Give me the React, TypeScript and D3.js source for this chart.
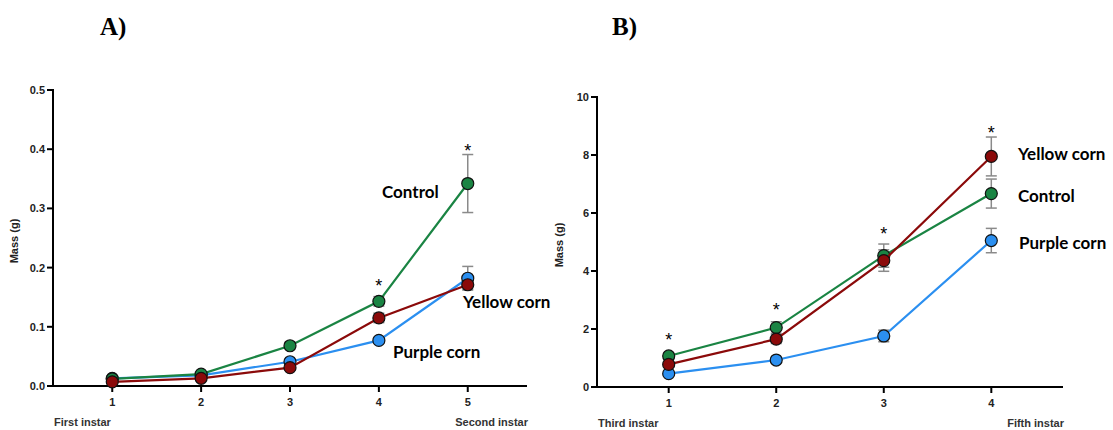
import React from "react";
import * as d3 from "d3";

// ---------- Data ----------
const stagesA = [1, 2, 3, 4, 5];
const controlA = [0.012, 0.02, 0.068, 0.143, 0.342];
const controlErrA = [0.002, 0.002, 0.006, 0.008, 0.049];
const yellowA = [0.007, 0.013, 0.031, 0.115, 0.171];
const yellowErrA = [0.001, 0.002, 0.004, 0.008, 0.007];
const purpleA = [0.013, 0.018, 0.041, 0.077, 0.182];
const purpleErrA = [0.002, 0.002, 0.004, 0.005, 0.02];
const yTicksA = [0, 0.1, 0.2, 0.3, 0.4, 0.5];
const starsA = [
  { x: 4, y: 0.176 },
  { x: 5, y: 0.404 },
];

const stagesB = [1, 2, 3, 4];
const controlB = [1.07, 2.05, 4.53, 6.67];
const controlErrB = [0.1, 0.2, 0.4, 0.5];
const yellowB = [0.78, 1.65, 4.36, 7.95];
const yellowErrB = [0.1, 0.15, 0.37, 0.67];
const purpleB = [0.46, 0.93, 1.76, 5.05];
const purpleErrB = [0.05, 0.08, 0.2, 0.42];
const yTicksB = [0, 2, 4, 6, 8, 10];
const starsB = [
  { x: 1, y: 1.77 },
  { x: 2, y: 2.81 },
  { x: 3, y: 5.43 },
  { x: 4, y: 8.9 },
];

const COLORS = {
  control: "#1a8443",
  yellow: "#8b0a0a",
  purple: "#2b8ff0",
};

type Series = { key: string; values: number[]; errs: number[]; color: string };

type PanelProps = {
  stages: number[];
  series: Series[];
  yTicks: number[];
  yFormat: (v: number) => string;
  stars: { x: number; y: number }[];
  xRange: [number, number];
  yRange: [number, number];
  yDomain: [number, number];
  leftLabel: string;
  rightLabel: string;
  labels: { text: string; x: number; y: number }[];
  yLabelX: number;
  title: string;
  titleX: number;
};

const AXIS_FONT = "'Liberation Sans', Arial, sans-serif";

function Panel(p: PanelProps) {
  const n = p.stages.length;
  const x = d3.scaleLinear().domain([1 / 3, n + 2 / 3]).range(p.xRange);
  const y = d3.scaleLinear().domain(p.yDomain).range(p.yRange);
  const line = d3
    .line<number>()
    .x((_, i) => x(p.stages[i]))
    .y((d) => y(d));
  const y0 = p.yRange[0];
  const capW = 5.5;
  return (
    <g>
      <text
        x={p.titleX}
        y={35}
        fontFamily="'Liberation Serif', 'Times New Roman', serif"
        fontWeight="bold"
        fontSize={25}
        fill="#000"
      >
        {p.title}
      </text>
      {/* y axis */}
      <line x1={p.xRange[0]} x2={p.xRange[0]} y1={p.yRange[1] - 1} y2={y0 + 1} stroke="#000" strokeWidth={2} />
      {p.yTicks.map((t) => (
        <g key={"yt" + t}>
          <line x1={p.xRange[0] - 6} x2={p.xRange[0]} y1={y(t)} y2={y(t)} stroke="#000" strokeWidth={2} />
          <text
            x={p.xRange[0] - 8}
            y={y(t)}
            dy="0.36em"
            textAnchor="end"
            fontFamily={AXIS_FONT}
            fontWeight="bold"
            fontSize={11}
            fill="#222"
          >
            {p.yFormat(t)}
          </text>
        </g>
      ))}
      <text
        transform={`translate(${p.yLabelX},${(p.yRange[0] + p.yRange[1]) / 2 + 3}) rotate(-90)`}
        textAnchor="middle"
        dy="0.35em"
        fontFamily={AXIS_FONT}
        fontWeight="bold"
        fontSize={11}
        fill="#222"
      >
        Mass (g)
      </text>
      {/* x axis */}
      <line x1={p.xRange[0] - 1} x2={p.xRange[1]} y1={y0} y2={y0} stroke="#000" strokeWidth={2} />
      {p.stages.map((s) => (
        <g key={"xt" + s}>
          <line x1={x(s)} x2={x(s)} y1={y0} y2={y0 + 6} stroke="#000" strokeWidth={2} />
          <text
            x={x(s)}
            y={y0 + 20}
            textAnchor="middle"
            fontFamily={AXIS_FONT}
            fontWeight="bold"
            fontSize={11}
            fill="#222"
          >
            {s}
          </text>
        </g>
      ))}
      <text x={p.xRange[0] + 1} y={y0 + 40} fontFamily={AXIS_FONT} fontWeight="bold" fontSize={11} fill="#333">
        {p.leftLabel}
      </text>
      <text
        x={p.xRange[1] + 1}
        y={y0 + 40}
        textAnchor="end"
        fontFamily={AXIS_FONT}
        fontWeight="bold"
        fontSize={11}
        fill="#333"
      >
        {p.rightLabel}
      </text>
      {/* error bars */}
      {p.series.map((s) =>
        s.values.map((v, i) => {
          const cx = x(p.stages[i]);
          const yt = y(v + s.errs[i]);
          const yb = y(Math.max(0, v - s.errs[i]));
          return (
            <g key={s.key + "e" + i} stroke="#8a8a8a" strokeWidth={1.5}>
              <line x1={cx} x2={cx} y1={yt} y2={yb} />
              <line x1={cx - capW} x2={cx + capW} y1={yt} y2={yt} />
              <line x1={cx - capW} x2={cx + capW} y1={yb} y2={yb} />
            </g>
          );
        })
      )}
      {/* lines and points */}
      {p.series.map((s) => (
        <g key={s.key}>
          <path d={line(s.values) || ""} fill="none" stroke={s.color} strokeWidth={2.2} />
          {s.values.map((v, i) => (
            <circle
              key={i}
              cx={x(p.stages[i])}
              cy={y(v)}
              r={6}
              fill={s.color}
              stroke="#111"
              strokeWidth={1.2}
            />
          ))}
        </g>
      ))}
      {/* significance stars */}
      {p.stars.map((st, i) => (
        <text
          key={"st" + i}
          x={x(st.x)}
          y={y(st.y) + 10}
          textAnchor="middle"
          fontFamily={AXIS_FONT}
          fontSize={18}
          fill="#000"
        >
          *
        </text>
      ))}
      {/* series labels */}
      {p.labels.map((l) => (
        <text
          key={l.text}
          x={l.x}
          y={l.y}
          dy="0.35em"
          fontFamily="Lato, 'Open Sans', sans-serif"
          fontWeight="bold"
          fontSize={17}
          fill="#000"
        >
          {l.text}
        </text>
      ))}
    </g>
  );
}

export default function App() {
  const seriesA: Series[] = [
    { key: "purple", values: purpleA, errs: purpleErrA, color: COLORS.purple },
    { key: "control", values: controlA, errs: controlErrA, color: COLORS.control },
    { key: "yellow", values: yellowA, errs: yellowErrA, color: COLORS.yellow },
  ];
  const seriesB: Series[] = [
    { key: "purple", values: purpleB, errs: purpleErrB, color: COLORS.purple },
    { key: "control", values: controlB, errs: controlErrB, color: COLORS.control },
    { key: "yellow", values: yellowB, errs: yellowErrB, color: COLORS.yellow },
  ];
  return (
    <div style={{ position: "absolute", left: 0, top: 0 }}>
      <svg width={1113} height={430} style={{ display: "block", background: "#fff" }}>
        <Panel
          stages={stagesA}
          series={seriesA}
          yTicks={yTicksA}
          yFormat={(v) => d3.format(".1f")(v)}
          stars={starsA}
          xRange={[53, 527]}
          yRange={[386, 90]}
          yDomain={[0, 0.5]}
          leftLabel="First instar"
          rightLabel="Second instar"
          labels={[
            { text: "Control", x: 382, y: 192 },
            { text: "Yellow corn", x: 463, y: 302 },
            { text: "Purple corn", x: 393, y: 352 },
          ]}
          yLabelX={14}
          title="A)"
          titleX={100}
        />
        <Panel
          stages={stagesB}
          series={seriesB}
          yTicks={yTicksB}
          yFormat={(v) => String(v)}
          stars={starsB}
          xRange={[597, 1063]}
          yRange={[387, 97]}
          yDomain={[0, 10]}
          leftLabel="Third instar"
          rightLabel="Fifth instar"
          labels={[
            { text: "Yellow corn", x: 1018, y: 154 },
            { text: "Control", x: 1018, y: 196 },
            { text: "Purple corn", x: 1019, y: 243 },
          ]}
          yLabelX={559}
          title="B)"
          titleX={612}
        />
      </svg>
    </div>
  );
}
